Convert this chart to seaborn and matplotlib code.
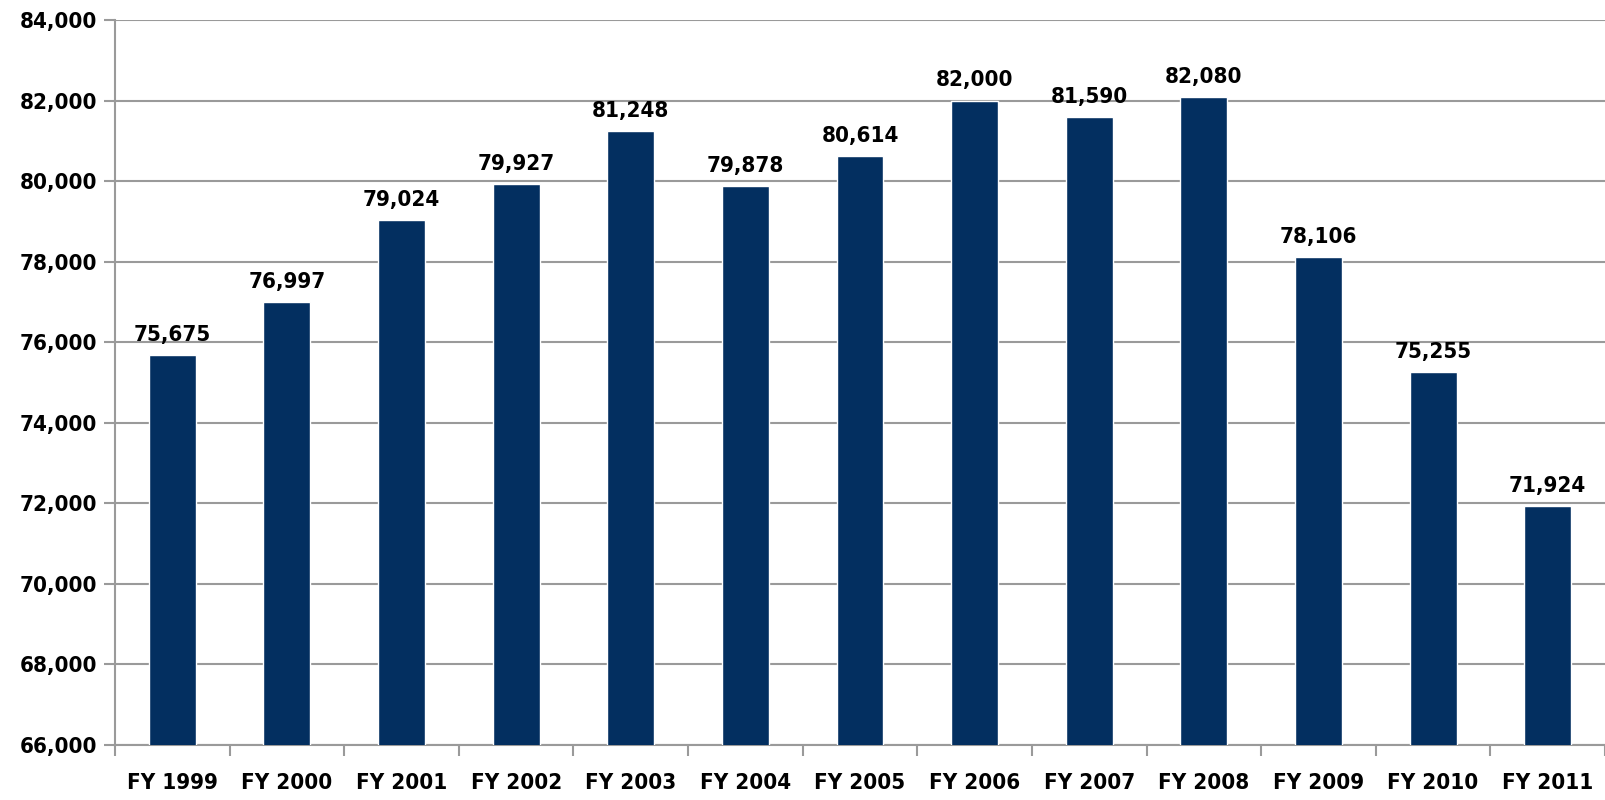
import numpy as np
import pandas as pd
import matplotlib
matplotlib.use('Agg')
import matplotlib.pyplot as plt
import seaborn as sns
from matplotlib.ticker import FuncFormatter, FixedLocator

years = ['FY 1999', 'FY 2000', 'FY 2001', 'FY 2002', 'FY 2003', 'FY 2004', 'FY 2005',
         'FY 2006', 'FY 2007', 'FY 2008', 'FY 2009', 'FY 2010', 'FY 2011']
values = [75675, 76997, 79024, 79927, 81248, 79878, 80614,
          82000, 81590, 82080, 78106, 75255, 71924]
y_ticks = list(range(66000, 84001, 2000))

bar_color = '#032F60'
grid_color = '#9A9A9A'
font_size = 16

sns.set_style('white')
plt.rcParams['font.family'] = ['DejaVu Sans']
plt.rcParams['font.stretch'] = 'condensed'
plt.rcParams['font.weight'] = 'bold'
plt.rcParams['text.color'] = 'black'
plt.rcParams['xtick.color'] = 'black'
plt.rcParams['ytick.color'] = 'black'

df = pd.DataFrame({'Year': years, 'Value': values})

fig = plt.figure(figsize=(16.06, 8), dpi=100)
ax = fig.add_axes([115 / 1606, 55 / 800, (1605 - 115) / 1606, (745 - 20) / 800])

sns.barplot(data=df, x='Year', y='Value', color=bar_color, width=0.41, ax=ax,
            saturation=1, zorder=3)

ax.set_ylim(66000, 84000)
ax.set_xlim(-0.5, len(years) - 0.5)
ax.set_yticks(y_ticks)
ax.yaxis.set_major_formatter(FuncFormatter(lambda v, p: f'{int(v):,}'))
ax.grid(axis='y', color=grid_color, linewidth=1.5, zorder=0)
ax.set_axisbelow(True)

for side in ['top', 'right']:
    ax.spines[side].set_visible(False)
for side in ['left', 'bottom']:
    ax.spines[side].set_color(grid_color)
    ax.spines[side].set_linewidth(1.5)

ax.tick_params(axis='y', which='major', length=8, width=1.5, color=grid_color,
               labelcolor='black', labelsize=font_size, pad=5, direction='out', left=True)
ax.tick_params(axis='x', which='major', length=0, labelsize=font_size, pad=20,
               labelcolor='black')
ax.xaxis.set_minor_locator(FixedLocator(np.arange(-0.5, len(years), 1.0)))
ax.tick_params(axis='x', which='minor', length=8, width=1.5, color=grid_color,
               direction='out', bottom=True)

for lbl in ax.get_xticklabels() + ax.get_yticklabels():
    lbl.set_fontweight('bold')
    lbl.set_fontstretch('condensed')

for i, v in enumerate(values):
    ax.text(i, v + 250, f'{v:,}', ha='center', va='bottom', fontsize=font_size,
            fontweight='bold', fontstretch='condensed', color='black')

ax.set_xlabel('')
ax.set_ylabel('')

fig.savefig('out.png', dpi=100)
